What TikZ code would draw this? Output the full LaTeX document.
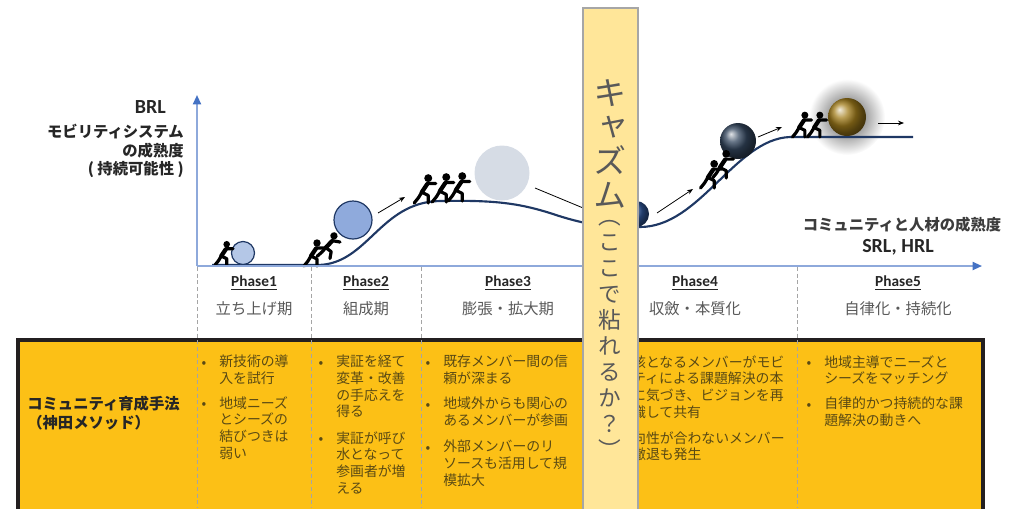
\documentclass[tikz,border=0pt]{standalone}
\usepackage{fontspec}
\setmainfont{Carlito}
\newfontfamily\jp{Noto Sans CJK JP}
\newfontfamily\jpv[RawFeature=+vert]{Noto Sans CJK JP}
\usetikzlibrary{
  arrows.meta,
  positioning
}
\definecolor{kdnavy}{HTML}{1F3864}
\definecolor{kdaxis}{HTML}{8EA9DB}
\definecolor{kdblue}{HTML}{4472C4}
\definecolor{kdlight}{HTML}{B4C7E7}
\definecolor{kdmid}{HTML}{8FAADC}
\definecolor{kdpale}{HTML}{D6DCE5}
\definecolor{kdslate}{HTML}{34475F}
\definecolor{kdroyal}{HTML}{2E5597}
\definecolor{kdgold}{HTML}{A37E1C}
\definecolor{kdamber}{HTML}{FCC016}
\definecolor{kdframe}{HTML}{231F20}
\definecolor{kdcream}{HTML}{FFE699}
\definecolor{kdbarline}{HTML}{A6A6A6}
\definecolor{kdink}{HTML}{262626}
\definecolor{kdgray}{HTML}{595959}
\definecolor{kdbrown}{HTML}{5A4A14}
\definecolor{kddash}{HTML}{A5A5A5}

% little figure pushing to the right, feet at the origin
\tikzset{
  pusher/.pic={
    \fill (3,-23) circle (3.7);
    \draw[line width=3.2pt, line cap=round, line join=round]
      (2,-17.5) -- (-3,-10);
    \draw[line width=2.4pt, line cap=round, line join=round]
      (10,-18) -- (2,-18)
      (-3,-10) -- (-6,-5) -- (-10,0)
      (-3,-10) -- (3,-7) -- (3,0);
  }
}

\begin{document}
\begin{tikzpicture}[
      x=0.75pt, y=-0.75pt,
      axis/.style={kdaxis, line width=1.4pt, -{Triangle[length=7pt, width=6pt, color=kdblue]}},
      curve/.style={kdnavy, line width=1.6pt},
      push/.style={-{Stealth[length=4.5pt, width=3.5pt]}, line width=0.6pt, black},
      divider/.style={kddash, densely dashed, line width=0.6pt},
      flatball/.style={draw=kdnavy, line width=0.9pt},
      phase/.style={font=\bfseries\fontsize{11.5}{13}\selectfont, text=kdink},
      stage/.style={font=\jp\fontsize{11.5}{14}\selectfont, text=kdgray},
      heading/.style={font=\jp\bfseries\fontsize{11.5}{13.8}\selectfont, text=kdink, inner sep=0pt},
      item/.style={font=\jp\fontsize{10.4}{12.5}\selectfont, text=kdbrown, align=left, anchor=north west, inner sep=0pt},
      dot/.style={font=\jp\fontsize{10.4}{12.5}\selectfont, text=kdbrown, anchor=base, inner sep=0pt}
    ]
      \useasboundingbox (0,0) rectangle (1024,508);
      \clip (0,0) rectangle (1024,508);

      % Glow behind the last ball
      \shade[inner color=black!70, outer color=white] (847,117) circle (38);

      % Growth curve
      \draw[curve] (212,265) -- (318,265)
        .. controls (368,264) and (380,202) .. (440,201)
        .. controls (495,200) and (520,203) .. (556,215)
        .. controls (590,226) and (612,228) .. (640,227)
        .. controls (700,227) and (735,139) .. (790,137)
        -- (913,137);

      % Balls
      \draw[flatball, fill=kdlight] (243,253) circle (11.5);
      \draw[flatball, fill=kdmid] (353,220) circle (19);
      \fill[kdpale] (502,173) circle (27.5);
      \shade[ball color=kdroyal] (636,214) circle (13);
      \shade[ball color=kdslate] (738,141) circle (18);
      \shade[ball color=kdgold] (847,117) circle (19);

      % Pushers
      \pic[scale=0.9] at (224,265) {pusher};
      \pic at (314,266) {pusher};
      \pic[rotate=-10] at (327,258) {pusher};
      \pic[scale=1.08] at (425,203) {pusher};
      \pic[scale=1.08] at (443,202) {pusher};
      \pic[scale=1.08] at (459,201) {pusher};
      \pic[scale=1.05] at (711,188) {pusher};
      \pic[scale=1.05] at (723,178) {pusher};
      \pic[scale=0.95] at (802,137) {pusher};
      \pic[scale=0.95] at (817,137) {pusher};

      % Direction arrows
      \coordinate (a2s) at (378,213);
      \coordinate (a2e) at (405,197);
      \coordinate (a3s) at (535,188);
      \coordinate (a3e) at (600,215);
      \coordinate (a4s) at (657,213);
      \coordinate (a4e) at (693,189);
      \coordinate (a5s) at (758,137);
      \coordinate (a5e) at (782,127);
      \coordinate (a6s) at (878,123);
      \coordinate (a6e) at (904,123);
      \draw[push] (a2s) -- (a2e);
      \draw[push] (a3s) -- (a3e);
      \draw[push] (a4s) -- (a4e);
      \draw[push] (a5s) -- (a5e);
      \draw[push] (a6s) -- (a6e);

      % Axes
      \coordinate (origin) at (197,266);
      \coordinate (ytip) at (197,95);
      \coordinate (xtip) at (982,266);
      \draw[axis] (origin) -- (ytip);
      \draw[axis] (origin) -- (xtip);

      % Axis labels
      \node[font=\bfseries\fontsize{15}{18}\selectfont, text=kdink, anchor=base east, inner sep=0pt] (brl) at (166,113) {BRL};
      \node[heading, align=right, anchor=north east] (brldesc) at (184,124) {モビリティシステム\\の成熟度\\( 持続可能性 )};
      \node[heading, text=kdink!90] (srldesc) at (902,225) {コミュニティと人材の成熟度};
      \node[font=\bfseries\fontsize{15}{18}\selectfont, text=kdink, inner sep=0pt] (srl) at (898,247) {SRL, HRL};

      % Phases
      \node[phase] (p1) at (254,283) {\underline{Phase1}};
      \node[phase] (p2) at (366,283) {\underline{Phase2}};
      \node[phase] (p3) at (508,283) {\underline{Phase3}};
      \node[phase] (p4) at (695,283) {\underline{Phase4}};
      \node[phase] (p5) at (898,283) {\underline{Phase5}};
      \node[stage] (s1) at (254,309) {立ち上げ期};
      \node[stage] (s2) at (366,309) {組成期};
      \node[stage] (s3) at (508,309) {膨張・拡大期};
      \node[stage] (s4) at (695,309) {収斂・本質化};
      \node[stage] (s5) at (898,309) {自律化・持続化};

      % Method panel
      \draw[line width=3pt, draw=kdframe, fill=kdamber] (18,340) rectangle (983,530);
      \node[heading, align=left, anchor=north west] (method) at (27,396) {コミュニティ育成手法\\（神田メソッド）};

      % Phase dividers
      \foreach \px in {197,311,421,595,797}
        \draw[divider] (\px,267) -- (\px,508);

      % Phase1 notes
      \node[dot] (b11) at (204,367) {•};
      \node[item] (t11) at (219,355) {新技術の導\\入を試行};
      \node[dot] (b12) at (204,408) {•};
      \node[item] (t12) at (219,396) {地域ニーズ\\とシーズの\\結びつきは\\弱い};

      % Phase2 notes
      \node[dot] (b21) at (321,367) {•};
      \node[item] (t21) at (336,355) {実証を経て\\変革・改善\\の手応えを\\得る};
      \node[dot] (b22) at (321,443) {•};
      \node[item] (t22) at (336,431) {実証が呼び\\水となって\\参画者が増\\える};

      % Phase3 notes
      \node[dot] (b31) at (428,367) {•};
      \node[item] (t31) at (443,355) {既存メンバー間の信\\頼が深まる};
      \node[dot] (b32) at (428,409) {•};
      \node[item] (t32) at (443,397) {地域外からも関心の\\あるメンバーが参画};
      \node[dot] (b33) at (428,452) {•};
      \node[item] (t33) at (443,440) {外部メンバーのリ\\ソースも活用して規\\模拡大};

      % Phase4 notes
      \node[dot] (b41) at (603,367) {•};
      \node[item] (t41) at (618,355) {中核となるメンバーがモビ\\リティによる課題解決の本\\質に気づき、ビジョンを再\\認識して共有};
      \node[dot] (b42) at (603,443) {•};
      \node[item] (t42) at (618,431) {方向性が合わないメンバー\\の撤退も発生};

      % Phase5 notes
      \node[dot] (b51) at (809,367) {•};
      \node[item] (t51) at (824,355) {地域主導でニーズと\\シーズをマッチング};
      \node[dot] (b52) at (809,409) {•};
      \node[item] (t52) at (824,397) {自律的かつ持続的な課\\題解決の動きへ};

      % Chasm bar
      \draw[line width=1.5pt, draw=kdbarline, fill=kdcream] (583,8) rectangle (638,530);
      \node[font=\jpv\fontsize{25}{25.5}\selectfont, text=kdgray, align=center, inner sep=0pt, anchor=north] (chasm) at (610,79) {キ\\ャ\\ズ\\ム};
      \node[font=\jpv\fontsize{17}{19.5}\selectfont, text=kdgray, align=center, inner sep=0pt, anchor=north] (chasmnote) at (610,220) {（\\こ\\こ\\で\\粘\\れ\\る\\か\\？\\）};
    \end{tikzpicture}
\end{document}
